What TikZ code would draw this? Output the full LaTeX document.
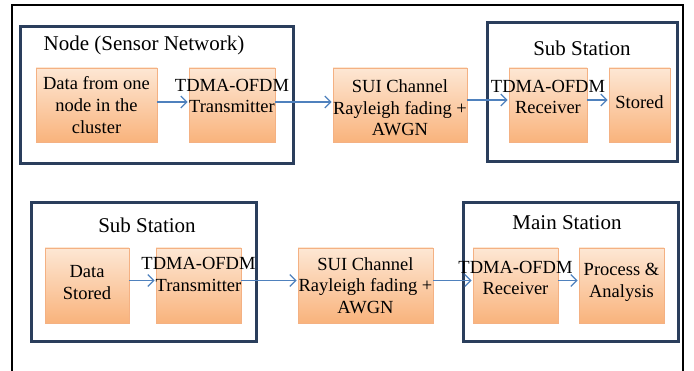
\documentclass[tikz,border=0pt]{standalone}
\usepackage{fontspec}
\setmainfont{Liberation Serif}
\newfontfamily\timesface{Liberation Serif}
\usepackage{tikz}
\usetikzlibrary{arrows.meta,positioning,calc}
\definecolor{linkblue}{HTML}{4F81BD}
\definecolor{grpnavy}{HTML}{2A3E5C}
\definecolor{blktop}{HTML}{FDE7D4}
\definecolor{blkbot}{HTML}{F9B37C}
\definecolor{blkline}{HTML}{F4B183}
\tikzset{
  post/.style={->,shorten >=1pt,>={Straight Barb[length=6pt,width=12pt]},line width=1.3pt,linkblue},
}

\begin{document}
\begin{tikzpicture}[x=1pt,y=-1pt,
      blk/.style={rectangle,draw=blkline,line width=0.6pt,top color=blktop,bottom color=blkbot,
        inner sep=0pt},
      txt/.style={align=center,font=\timesface\fontsize{18.5}{21.7}\selectfont,inner sep=0pt},
      grp/.style={draw=grpnavy,line width=3pt},
      grptitle/.style={font=\timesface\fontsize{21}{24}\selectfont,inner sep=0pt},]
      \useasboundingbox (0,0) rectangle (694,371);
      \draw[line width=2pt] (12,371) -- (12,5) -- (683,5) -- (683,371);

      % first link: node -> sub station
      \draw[grp] (20,27) rectangle (293,164);
      \node[grptitle] (g1) at (144,45) {Node (Sensor Network)};
      \draw[grp] (487,23) rectangle (677,162);
      \node[grptitle] (g2) at (582,48) {Sub Station};

      \node[blk,minimum width=121pt,minimum height=74pt] (d1) at (96.5,105) {};
      \node[blk,minimum width=86pt,minimum height=74pt] (tx1) at (232,105) {};
      \node[blk,minimum width=134pt,minimum height=74pt] (ch1) at (400,105) {};
      \node[blk,minimum width=78pt,minimum height=74pt] (rx1) at (548,105) {};
      \node[blk,minimum width=61pt,minimum height=74pt] (st1) at (639.5,105) {};

      \node[txt] (d1t) at (d1.center) {Data from one\\node in the\\cluster};
      \node[txt] (tx1t) at ([yshift=9pt]tx1.center) {TDMA-OFDM\\Transmitter};
      \node[txt] (ch1t) at ([yshift=-3pt]ch1.center) {SUI Channel\\Rayleigh fading +\\AWGN};
      \node[txt] (rx1t) at ([yshift=8pt]rx1.center) {TDMA-OFDM\\Receiver};
      \node[txt] (st1t) at ([yshift=3pt]st1.center) {Stored};

      \draw[post] ([yshift=3pt]d1.east) -- ([yshift=3pt]tx1.west);
      \draw[post] ([yshift=3pt]tx1.east) -- ([yshift=3pt]ch1.west);
      \draw[post] ([yshift=5pt]ch1.east) -- ([yshift=5pt]rx1.west);
      \draw[post] ([yshift=5pt]rx1.east) -- ([yshift=5pt]st1.west);

      % second link: sub station -> main station
      \draw[grp] (31,203) rectangle (256,342);
      \node[grptitle] (g3) at (147,225) {Sub Station};
      \draw[grp] (463,203) rectangle (678,342);
      \node[grptitle] (g4) at (567,223) {Main Station};

      \node[blk,minimum width=84pt,minimum height=75pt] (d2) at (87,285.5) {};
      \node[blk,minimum width=85pt,minimum height=75pt] (tx2) at (198.5,285.5) {};
      \node[blk,minimum width=135pt,minimum height=75pt] (ch2) at (365.5,285.5) {};
      \node[blk,minimum width=85pt,minimum height=75pt] (rx2) at (515.5,285.5) {};
      \node[blk,minimum width=85pt,minimum height=75pt] (pa2) at (621.5,285.5) {};

      \node[txt] (d2t) at ([yshift=3pt]d2.center) {Data\\Stored};
      \node[txt] (tx2t) at ([yshift=11pt]tx2.center) {TDMA-OFDM\\Transmitter};
      \node[txt] (ch2t) at (ch2.center) {SUI Channel\\Rayleigh fading +\\AWGN};
      \node[txt] (rx2t) at ([yshift=7.5pt]rx2.center) {TDMA-OFDM\\Receiver};
      \node[txt] (pa2t) at ([yshift=3.5pt]pa2.center) {Process \&\\Analysis};

      \draw[post] ([yshift=5pt]d2.east) -- ([yshift=5pt]tx2.west);
      \draw[post] ([yshift=5pt]tx2.east) -- ([yshift=5pt]ch2.west);
      \draw[post] ([yshift=5pt]ch2.east) -- ([yshift=5pt]rx2.west);
      \draw[post] ([yshift=5pt]rx2.east) -- ([yshift=5pt]pa2.west);
      \end{tikzpicture}
\end{document}
